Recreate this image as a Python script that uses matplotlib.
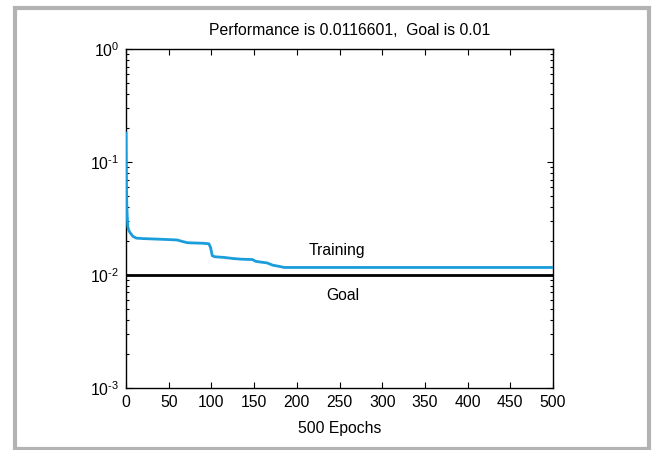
import numpy as np
import matplotlib
matplotlib.use("Agg")
import matplotlib.pyplot as plt
from matplotlib.patches import Rectangle
from matplotlib.ticker import LogLocator, NullFormatter, FuncFormatter

plt.rcParams['font.family'] = ['Liberation Sans', 'DejaVu Sans']
plt.rcParams['mathtext.fontset'] = 'custom'
plt.rcParams['mathtext.rm'] = 'Liberation Sans'

# training performance
epochs = [0, 0.5, 1, 2, 3, 5, 8, 12, 20, 35, 55, 60, 66, 72, 80, 90, 97, 99, 101, 104,
          115, 125, 135, 148, 152, 158, 165, 172, 180, 185, 500]
perf = [0.18, 0.06, 0.039, 0.027, 0.025, 0.0235, 0.022, 0.0212, 0.021, 0.0208, 0.0205,
        0.0204, 0.0198, 0.0193, 0.0192, 0.0191, 0.0189, 0.0175, 0.0148, 0.0145, 0.0143,
        0.0140, 0.0138, 0.0137, 0.0132, 0.0130, 0.0128, 0.0122, 0.0119, 0.01166, 0.01166]
goal = 0.01
n_epochs = 500
best = 0.0116601

fs = 11.3

fig = plt.figure(figsize=(6.52, 4.5), dpi=100)
ax = fig.add_axes([0.1933, 0.1378, 0.6549, 0.7533])

ax.semilogy(epochs, perf, color='#1b9ddb', lw=2, zorder=3)
ax.plot([0, n_epochs], [goal, goal], color='k', lw=2, zorder=3)

ax.set_xlim(0, n_epochs)
ax.set_ylim(1e-3, 1e0)
ax.set_xticks(np.arange(0, 501, 50))
ax.yaxis.set_minor_locator(LogLocator(base=10, subs=np.arange(2, 10)))
ax.yaxis.set_minor_formatter(NullFormatter())


def dec(v, pos):
    e = int(round(np.log10(v)))
    return r'$\mathrm{10}^{\text{%d}}$' % e


ax.yaxis.set_major_formatter(FuncFormatter(dec))
ax.tick_params(which='both', direction='in', top=True, right=True, labelsize=fs,
               width=0.8, pad=5)
ax.tick_params(which='major', length=4)
ax.tick_params(which='minor', length=2.5)
for s in ax.spines.values():
    s.set_linewidth(1)

ax.set_xlabel('%d Epochs' % n_epochs, fontsize=fs, labelpad=8)
ax.set_title('Performance is %s,  Goal is %s' % (best, goal), fontsize=fs, pad=10, x=0.523)

ax.text(247, 0.0165, 'Training', fontsize=fs, ha='center', va='center')
ax.text(254, 0.0066, 'Goal', fontsize=fs, ha='center', va='center')

fig.patches.append(Rectangle((14.5 / 652, 1 - 449 / 450), 634 / 652, 441.5 / 450,
                             transform=fig.transFigure, fill=False,
                             edgecolor='#b3b3b3', lw=3))

fig.savefig('out.png', dpi=100)
